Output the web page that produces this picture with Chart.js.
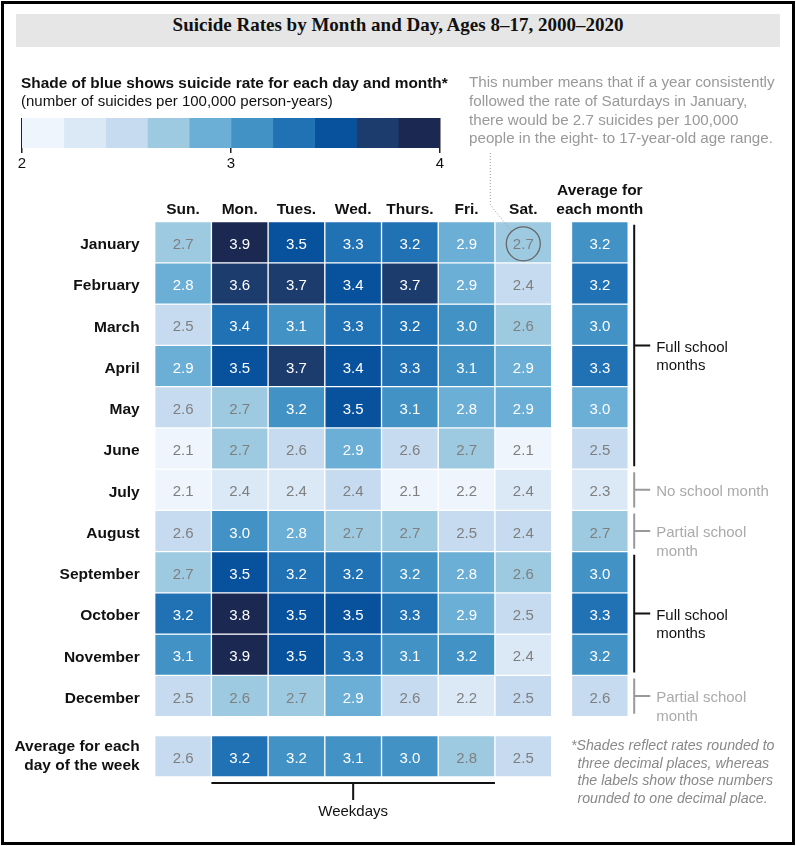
<!DOCTYPE html>
<html>
<head>
<meta charset="utf-8">
<script src="https://cdn.jsdelivr.net/npm/chart.js@4.4.1/dist/chart.umd.min.js"></script>
<style>
  html, body { margin: 0; padding: 0; background: #fff; }
  #page { position: relative; width: 796px; height: 846px; overflow: hidden; font-family: "Liberation Sans", Arial, sans-serif; }
  #frame { position: absolute; left: 1px; top: 1px; right: 1px; bottom: 1px; border: 3px solid #000; pointer-events: none; }
  canvas { position: absolute; }
  #main { left: 0; top: 0; }
  #key { left: 0; top: 110px; }
  #title { position: absolute; left: 16px; top: 14px; width: 764px; height: 33px; line-height: 33px; background: #e6e6e6;
           text-align: center; font: bold 19px "Liberation Serif", serif; color: #111; }
  .txt { position: absolute; white-space: nowrap; line-height: 18px; }
  #keyTitle { left: 21px; top: 74px; font-weight: bold; font-size: 15.4px; color: #111; }
  #keySub { left: 21px; top: 92px; font-size: 15px; color: #111; }
  #note { left: 469px; top: 73px; font-size: 15.2px; color: #999; line-height: 18.8px; }
  #foot { left: 571px; top: 737px; font-size: 14.2px; font-style: italic; color: #888; line-height: 17.5px;
          white-space: normal; padding-left: 6.5px; text-indent: -6.5px; width: 220px; }
</style>
</head>
<body>
<div id="page">
  <canvas id="main" width="796" height="846"></canvas>
  <canvas id="key" width="470" height="70"></canvas>
  <div id="title">Suicide Rates by Month and Day, Ages 8–17, 2000–2020</div>
  <div class="txt" id="keyTitle">Shade of blue shows suicide rate for each day and month*</div>
  <div class="txt" id="keySub">(number of suicides per 100,000 person-years)</div>
  <div class="txt" id="note">This number means that if a year consistently<br>followed the rate of Saturdays in January,<br>there would be 2.7 suicides per 100,000<br>people in the eight- to 17-year-old age range.</div>
  <div class="txt" id="foot">*Shades reflect rates rounded to<br>three decimal places, whereas<br>the labels show those numbers<br>rounded to one decimal place.</div>
  <div id="frame"></div>
</div>
<script>
const days = ["Sun.", "Mon.", "Tues.", "Wed.", "Thurs.", "Fri.", "Sat."];
const months = ["January", "February", "March", "April", "May", "June", "July",
  "August", "September", "October", "November", "December"];

// rates per 100,000; the second decimal is a guess taken from the shade of the cell
const rates = [
  [2.7, 3.9, 3.5, 3.3, 3.22, 2.9, 2.7],
  [2.82, 3.62, 3.7, 3.42, 3.7, 2.9, 2.42],
  [2.5, 3.38, 3.1, 3.3, 3.22, 3.02, 2.62],
  [2.9, 3.5, 3.7, 3.42, 3.3, 3.1, 2.9],
  [2.58, 2.7, 3.18, 3.5, 3.1, 2.82, 2.9],
  [2.1, 2.7, 2.58, 2.9, 2.58, 2.7, 2.1],
  [2.1, 2.38, 2.38, 2.42, 2.1, 2.18, 2.38],
  [2.58, 3.02, 2.82, 2.7, 2.7, 2.5, 2.42],
  [2.7, 3.5, 3.22, 3.22, 3.18, 2.82, 2.62],
  [3.22, 3.82, 3.5, 3.5, 3.3, 2.9, 2.5],
  [3.1, 3.9, 3.5, 3.3, 3.1, 3.18, 2.38],
  [2.5, 2.62, 2.7, 2.9, 2.58, 2.22, 2.5],
];
const monthAvg = [3.18, 3.22, 3.02, 3.3, 2.98, 2.5, 2.3, 2.7, 3.02, 3.3, 3.18, 2.58];
const dayAvg = [2.58, 3.22, 3.18, 3.1, 3.02, 2.78, 2.5];

const shades = ["#eef5fc", "#dbe9f6", "#c6dbef", "#9ecae1", "#6baed6",
  "#4292c6", "#2171b5", "#08519c", "#1c3c6e", "#1a2852"];
const keyTicks = [2, 3, 4];

const schoolGroups = [
  { from: 0, to: 5, text: ["Full school", "months"], dark: true },
  { from: 6, to: 6, text: ["No school month"], dark: false },
  { from: 7, to: 7, text: ["Partial school", "month"], dark: false },
  { from: 8, to: 10, text: ["Full school", "months"], dark: true },
  { from: 11, to: 11, text: ["Partial school", "month"], dark: false },
];

const FONT = '"Liberation Sans", Arial, sans-serif';
const AVG_COL = 7.35;   // average column sits a little apart from Saturday
const AVG_ROW = 12.46;  // average row starts a little below December

const shadeIndex = (v) => Math.min(9, Math.max(0, Math.floor((v - 2) / 0.2)));
const cellColor = (c) => shades[shadeIndex(c.raw.v)];

// one dataset per row of the grid
const datasets = months.map((m, r) => ({
  label: m,
  data: [
    ...rates[r].map((v, c) => ({ x: c, y: [r, r + 1], v })),
    { x: AVG_COL, y: [r, r + 1], v: monthAvg[r] },
  ],
}));
datasets.push({
  label: "Average for each day of the week",
  data: dayAvg.map((v, c) => ({ x: c, y: [AVG_ROW, AVG_ROW + 1], v })),
});
datasets.forEach((ds) => {
  ds.backgroundColor = cellColor;
  ds.borderColor = "#ffffff";
  ds.borderWidth = 1;
  ds.borderSkipped = false;
});

const colTicks = [...days.map((d, i) => i), AVG_COL];
const colLabels = [...days, ["Average for", "each month"]];
const rowTicks = [...months.map((m, i) => i + 0.56), AVG_ROW + 0.5];
const rowLabels = [...months, ["Average for each", "day of the week"]];

const cellLabels = {
  id: "cellLabels",
  afterDatasetsDraw(chart) {
    const ctx = chart.ctx;
    ctx.save();
    ctx.font = "15px " + FONT;
    ctx.textAlign = "center";
    ctx.textBaseline = "middle";
    chart.data.datasets.forEach((ds, i) => {
      chart.getDatasetMeta(i).data.forEach((bar, j) => {
        const v = ds.data[j].v;
        const { x, y, base } = bar.getProps(["x", "y", "base"], true);
        ctx.fillStyle = shadeIndex(v) >= 4 ? "#ffffff" : "#7f7f7f";
        ctx.fillText(v.toFixed(1), x, (y + base) / 2 + 2.5);
      });
    });
    ctx.restore();
  },
};

const annotations = {
  id: "annotations",
  afterDraw(chart) {
    const ctx = chart.ctx;
    const xs = chart.scales.x;
    const ys = chart.scales.y;
    const area = chart.chartArea;
    ctx.save();

    // circle on January / Saturday and the dotted leader to the note
    const cx = xs.getPixelForValue(6);
    const cy = ys.getPixelForValue(0.5) + 1.5;
    const rad = 17;
    ctx.strokeStyle = "#666";
    ctx.lineWidth = 1.3;
    ctx.beginPath();
    ctx.arc(cx, cy, rad, 0, Math.PI * 2);
    ctx.stroke();

    const a = -Math.PI * 0.74;
    ctx.strokeStyle = "#999";
    ctx.lineWidth = 1;
    ctx.setLineDash([1, 2]);
    ctx.beginPath();
    ctx.moveTo(cx - 33, 153);
    ctx.lineTo(cx - 33, area.top - 17);
    ctx.lineTo(cx + rad * Math.cos(a), cy + rad * Math.sin(a));
    ctx.stroke();
    ctx.setLineDash([]);

    // school brackets on the right
    const bx = area.right + 6;
    ctx.font = "15px " + FONT;
    ctx.textAlign = "left";
    ctx.textBaseline = "middle";
    schoolGroups.forEach((g) => {
      const top = ys.getPixelForValue(g.from) + 3;
      const bot = ys.getPixelForValue(g.to + 1) - 3;
      const mid = (top + bot) / 2;
      ctx.strokeStyle = g.dark ? "#111" : "#999";
      ctx.lineWidth = 2;
      ctx.beginPath();
      ctx.moveTo(bx, top);
      ctx.lineTo(bx, bot);
      ctx.moveTo(bx, mid);
      ctx.lineTo(bx + 16, mid);
      ctx.stroke();
      ctx.fillStyle = g.dark ? "#111" : "#aaa";
      g.text.forEach((t, k) => ctx.fillText(t, bx + 22, mid + 2 + k * 18.6));
    });

    // weekdays bracket under Mon.–Fri.
    const wy = ys.getPixelForValue(AVG_ROW + 1) + 6;
    const wl = xs.getPixelForValue(0.5);
    const wr = xs.getPixelForValue(5.5);
    const wm = xs.getPixelForValue(3);
    ctx.strokeStyle = "#111";
    ctx.lineWidth = 2;
    ctx.beginPath();
    ctx.moveTo(wl, wy);
    ctx.lineTo(wr, wy);
    ctx.moveTo(wm, wy);
    ctx.lineTo(wm, wy + 17);
    ctx.stroke();
    ctx.fillStyle = "#111";
    ctx.textAlign = "center";
    ctx.fillText("Weekdays", wm, wy + 29);

    ctx.restore();
  },
};

new Chart(document.getElementById("main"), {
  type: "bar",
  data: { datasets },
  options: {
    responsive: false,
    animation: false,
    events: [],
    indexAxis: "x",
    layout: { padding: { left: 0, right: 167.8, top: 0, bottom: 69.1 } },
    datasets: { bar: { grouped: false, barThickness: 56.7 } },
    plugins: { colors: { enabled: false }, legend: { display: false }, tooltip: { enabled: false } },
    scales: {
      x: {
        type: "linear",
        position: "top",
        min: -0.5,
        max: AVG_COL + 0.5,
        offset: false,
        grid: { display: false },
        border: { display: false },
        afterBuildTicks: (s) => { s.ticks = colTicks.map((v) => ({ value: v })); },
        afterFit: (s) => { s.height = 221.7; },
        ticks: {
          autoSkip: false,
          maxRotation: 0,
          padding: -5,
          color: "#111",
          font: { family: FONT, size: 15.5, weight: "bold", lineHeight: 1.2 },
          callback: (v, i) => colLabels[i],
        },
      },
      y: {
        type: "linear",
        reverse: true,
        min: 0,
        max: AVG_ROW + 1,
        grid: { display: false },
        border: { display: false },
        afterBuildTicks: (s) => { s.ticks = rowTicks.map((v) => ({ value: v })); },
        afterFit: (s) => { s.width = 154.7; },
        ticks: {
          autoSkip: false,
          padding: 7,
          color: "#111",
          font: { family: FONT, size: 15.5, weight: "bold", lineHeight: 1.2 },
          callback: (v, i) => rowLabels[i],
        },
      },
    },
  },
  plugins: [cellLabels, annotations],
});

// colour key: one floating bar per shade on a 2–4 scale
new Chart(document.getElementById("key"), {
  type: "bar",
  data: {
    labels: ["key"],
    datasets: shades.map((col, i) => ({
      data: [[2 + i * 0.2, 2.2 + i * 0.2]],
      backgroundColor: col,
      borderWidth: 0,
    })),
  },
  options: {
    responsive: false,
    animation: false,
    events: [],
    indexAxis: "y",
    layout: { padding: { left: 22, right: 30, top: 8, bottom: 0 } },
    datasets: { bar: { grouped: false, barPercentage: 1, categoryPercentage: 1 } },
    plugins: { colors: { enabled: false }, legend: { display: false }, tooltip: { enabled: false } },
    scales: {
      y: { display: false },
      x: {
        type: "linear",
        min: 2,
        max: 4,
        z: 1,
        grid: { color: "#222", lineWidth: 1.5, tickLength: 5 },
        border: { display: false },
        afterBuildTicks: (s) => { s.ticks = keyTicks.map((v) => ({ value: v })); },
        afterFit: (s) => { s.height = 32; },
        ticks: {
          padding: 1.5,
          color: "#111",
          font: { family: FONT, size: 15 },
        },
      },
    },
  },
});
</script>
</body>
</html>
